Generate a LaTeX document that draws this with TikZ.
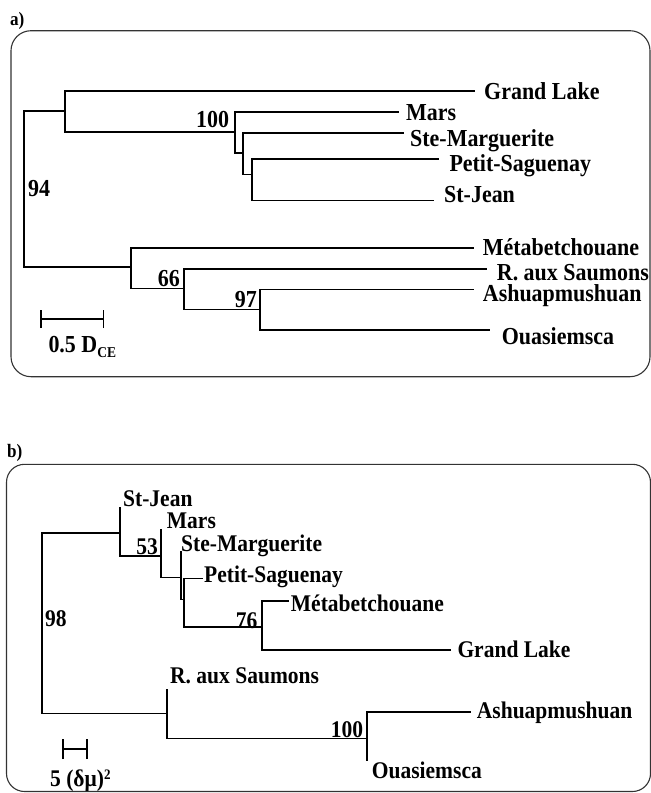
\documentclass[tikz,border=0pt]{standalone}
\usepackage{fontspec}
\setmainfont{Liberation Serif}
\newfontfamily\tallserif[FakeStretch=0.9]{Liberation Serif}
\begin{document}
\begin{tikzpicture}[x=1pt,y=-1pt,
  branch/.style={line width=1.6pt,line cap=rect},
  panelbox/.style={draw=black!80,line width=1.1pt},
  leafA/.style={anchor=base west,inner sep=0pt,text height=16.5pt,text depth=4pt,font=\tallserif\bfseries\fontsize{24.4}{26}\selectfont},
  leafB/.style={anchor=base west,inner sep=0pt,text height=16.5pt,text depth=4pt,font=\tallserif\bfseries\fontsize{23.9}{26}\selectfont},
  supA/.style={anchor=base east,inner sep=0pt,text height=16.5pt,text depth=0pt,font=\tallserif\bfseries\fontsize{24.4}{26}\selectfont},
  supB/.style={anchor=base east,inner sep=0pt,text height=16.5pt,text depth=0pt,font=\tallserif\bfseries\fontsize{23.9}{26}\selectfont},
  tag/.style={anchor=base west,inner sep=0pt,font=\tallserif\bfseries\fontsize{19}{21}\selectfont}]
\useasboundingbox (0,0) rectangle (651,793);

% ---------------- panel a ----------------
\node[tag] (taga) at (10,25) {a)};
\draw[panelbox,rounded corners=20pt] (11,30.7) rectangle (650,376.7);

\coordinate (RA) at (24,189);
\coordinate (N1) at (65,111);
\coordinate (N2) at (235,132);
\coordinate (N3) at (243,153);
\coordinate (N4) at (252,174.5);
\coordinate (N5) at (131,267);
\coordinate (N6) at (184,288.5);
\coordinate (N7) at (260,309.5);
\coordinate (aGL) at (474,91);
\coordinate (aMA) at (398,112);
\coordinate (aSM) at (402.7,133);
\coordinate (aPS) at (438,159);
\coordinate (aSJ) at (433,200.5);
\coordinate (aME) at (473.5,248);
\coordinate (aRS) at (486,269);
\coordinate (aAS) at (473,289.5);
\coordinate (aOU) at (489,330);

\draw[branch] (RA) |- (N1);
\draw[branch] (RA) |- (N5);
\draw[branch] (N1) |- (aGL);
\draw[branch] (N1) |- (N2);
\draw[branch] (N2) |- (aMA);
\draw[branch] (N2) |- (N3);
\draw[branch] (N3) |- (aSM);
\draw[branch] (N3) |- (N4);
\draw[branch] (N4) |- (aPS);
\draw[branch] (N4) |- (aSJ);
\draw[branch] (N5) |- (aME);
\draw[branch] (N5) |- (N6);
\draw[branch] (N6) |- (aRS);
\draw[branch] (N6) |- (N7);
\draw[branch] (N7) |- (aAS);
\draw[branch] (N7) |- (aOU);

\node[leafA] (lGLa) at (484,99.3) {Grand Lake};
\node[leafA] (lMAa) at (406,120) {Mars};
\node[leafA] (lSMa) at (410,146) {Ste-Marguerite};
\node[leafA] (lPSa) at (449.3,171.7) {Petit-Saguenay};
\node[leafA] (lSJa) at (444,202.7) {St-Jean};
\node[leafA] (lMEa) at (482.7,255) {Métabetchouane};
\node[leafA,text depth=0pt] (lRSa) at (496.7,280) {R. aux Saumons};
\node[leafA] (lASa) at (482.7,301.7) {Ashuapmushuan};
\node[leafA] (lOUa) at (501.7,344) {Ouasiemsca};

\node[supA] (s100a) at (229.3,127.3) {100};
\node[leafA] (s94a) at (28,196) {94};
\node[supA] (s66a) at (180,286) {66};
\node[supA] (s97a) at (257,307.3) {97};

\coordinate (sa1) at (41,319);
\coordinate (sa2) at (103.3,319);
\draw[line width=1.6pt] (sa1) -- (sa2);
\draw[line width=1.6pt] ([yshift=-9pt]sa1) -- ([yshift=9pt]sa1);
\draw[line width=1.6pt] ([yshift=-9pt]sa2) -- ([yshift=9pt]sa2);
\node[leafA] (scalea) at (48.3,352.7) {0.5 D\raisebox{-4.5pt}{\fontsize{15}{16}\selectfont CE}};

% ---------------- panel b ----------------
\node[tag] (tagb) at (7,457.5) {b)};
\draw[panelbox,rounded corners=18pt] (6.5,464.3) rectangle (650.5,791.5);

\coordinate (RB) at (41.7,623);
\coordinate (B1) at (120,532.7);
\coordinate (B2) at (161,556);
\coordinate (B3) at (181,577.3);
\coordinate (B4) at (184,599.3);
\coordinate (B5) at (261.7,626.7);
\coordinate (B6) at (166.7,713.3);
\coordinate (B7) at (366.7,738.3);
\coordinate (bSJ) at (120,507.3);
\coordinate (bMA) at (161,529.3);
\coordinate (bSM) at (181,551.7);
\coordinate (bPS) at (202,578.3);
\coordinate (bME) at (288.3,601);
\coordinate (bGL) at (450,650);
\coordinate (bRS) at (166.7,689.3);
\coordinate (bAS) at (470,711.7);
\coordinate (bOU) at (366.7,760);

\draw[branch] (RB) |- (B1);
\draw[branch] (RB) |- (B6);
\draw[branch] (B1) |- (bSJ);
\draw[branch] (B1) |- (B2);
\draw[branch] (B2) |- (bMA);
\draw[branch] (B2) |- (B3);
\draw[branch] (B3) |- (bSM);
\draw[branch] (B3) |- (B4);
\draw[branch] (B4) |- (bPS);
\draw[branch] (B4) |- (B5);
\draw[branch] (B5) |- (bME);
\draw[branch] (B5) |- (bGL);
\draw[branch] (B6) |- (bRS);
\draw[branch] (B6) |- (B7);
\draw[branch] (B7) |- (bAS);
\draw[branch] (B7) |- (bOU);

\node[leafB] (lSJb) at (123,506.3) {St-Jean};
\node[leafB] (lMAb) at (166.7,528.3) {Mars};
\node[leafB] (lSMb) at (181,551) {Ste-Marguerite};
\node[leafB] (lPSb) at (204,582.7) {Petit-Saguenay};
\node[leafB] (lMEb) at (290.7,611.7) {Métabetchouane};
\node[leafB] (lGLb) at (457.3,657.3) {Grand Lake};
\node[leafB] (lRSb) at (170,683.3) {R. aux Saumons};
\node[leafB] (lASb) at (476.7,718.3) {Ashuapmushuan};
\node[leafB] (lOUb) at (371.7,778.3) {Ouasiemsca};

\node[leafB] (s98b) at (45,626.7) {98};
\node[supB] (s53b) at (158,554.5) {53};
\node[supB] (s76b) at (257.7,628.3) {76};
\node[supB] (s100b) at (363.3,737.3) {100};

\coordinate (sb1) at (62.7,749);
\coordinate (sb2) at (86.7,749);
\draw[line width=1.6pt] (sb1) -- (sb2);
\draw[line width=1.6pt] ([yshift=-10pt]sb1) -- ([yshift=10pt]sb1);
\draw[line width=1.6pt] ([yshift=-10pt]sb2) -- ([yshift=10pt]sb2);
\node[leafB] (scaleb) at (50,786.7) {5 (δμ)\raisebox{7.5pt}{\fontsize{14.5}{15}\selectfont 2}};
\end{tikzpicture}
\end{document}
